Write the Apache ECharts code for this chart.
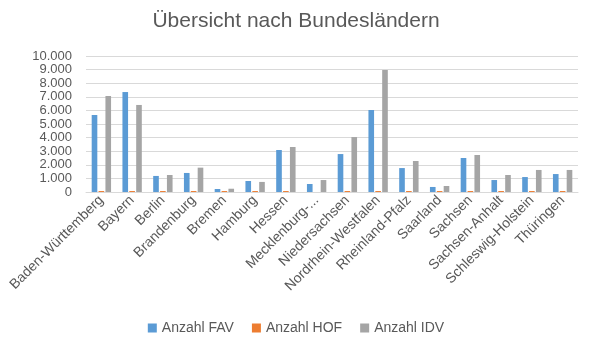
<!DOCTYPE html>
<html>
<head>
	<meta charset="utf-8">
	<title>Übersicht nach Bundesländern</title>
	<style>
		html, body { margin: 0; padding: 0; background: #fff; }
		#chart { width: 592px; height: 352px; }
	</style>
</head>
<body>
<div id="chart"></div>
<script src="https://cdn.jsdelivr.net/npm/echarts@6/dist/echarts.min.js"></script>
<script>
var laender = ['Baden-Württemberg', 'Bayern', 'Berlin', 'Brandenburg', 'Bremen', 'Hamburg', 'Hessen',
	'Mecklenburg-Vorpommern', 'Niedersachsen', 'Nordrhein-Westfalen', 'Rheinland-Pfalz', 'Saarland',
	'Sachsen', 'Sachsen-Anhalt', 'Schleswig-Holstein', 'Thüringen'];

var anzahlFAV = [5660, 7350, 1180, 1400, 220, 810, 3090, 590, 2790, 6030, 1760, 370, 2500, 880, 1100, 1320];
var anzahlHOF = [70, 70, 70, 70, 70, 70, 70, 0, 70, 70, 70, 70, 70, 70, 70, 70];
var anzahlIDV = [7060, 6400, 1250, 1790, 240, 740, 3310, 880, 4040, 8970, 2280, 440, 2720, 1250, 1620, 1620];

var serienNamen = ['Anzahl FAV', 'Anzahl HOF', 'Anzahl IDV'];
var farben = ['#5b9bd5', '#ed7d31', '#a5a5a5'];

// Tausenderpunkt wie im Original
function fmt(v){
	return String(v).replace(/\B(?=(\d{3})+(?!\d))/g, '.');
}

var werte = [anzahlFAV, anzahlHOF, anzahlIDV];
var series = [];
for (var i = 0; i < werte.length; i++) {
	series.push({
		name: serienNamen[i],
		type: 'bar',
		data: werte[i],
		barGap: '22%',
		barCategoryGap: '37%',
		itemStyle: { color: farben[i] }
	});
}

var option = {
	animation: false,
	textStyle: { fontFamily: 'Liberation Sans' },
	title: {
		text: 'Übersicht nach Bundesländern',
		left: 'center',
		top: 6,
		textStyle: { fontSize: 21, fontWeight: 'normal', color: '#595959', fontFamily: 'Liberation Sans' }
	},
	legend: {
		data: serienNamen,
		bottom: 12,
		left: 'center',
		itemWidth: 9,
		itemHeight: 9,
		itemGap: 18,
		icon: 'rect',
		textStyle: { fontSize: 14, color: '#595959' }
	},
	grid: {
		left: 86,
		right: 14,
		top: 56,
		bottom: 160
	},
	xAxis: {
		type: 'category',
		data: laender,
		axisTick: { show: false },
		axisLine: { lineStyle: { color: '#d9d9d9' } },
		axisLabel: {
			rotate: 45,
			interval: 0,
			fontSize: 14,
			color: '#595959',
			margin: 6,
			formatter: function(v){
				return v.length > 20 ? v.slice(0, 12) + '...' : v;
			}
		}
	},
	yAxis: {
		type: 'value',
		min: 0,
		max: 10000,
		interval: 1000,
		axisLine: { show: false },
		axisTick: { show: false },
		splitLine: { lineStyle: { color: '#d9d9d9' } },
		axisLabel: {
			fontSize: 13,
			lineHeight: 13,
			color: '#595959',
			margin: 14,
			showMinLabel: true,
			showMaxLabel: true,
			formatter: fmt
		}
	},
	series: series
};

var myChart = echarts.init(document.getElementById('chart'));
myChart.setOption(option);
</script>
</body>
</html>
